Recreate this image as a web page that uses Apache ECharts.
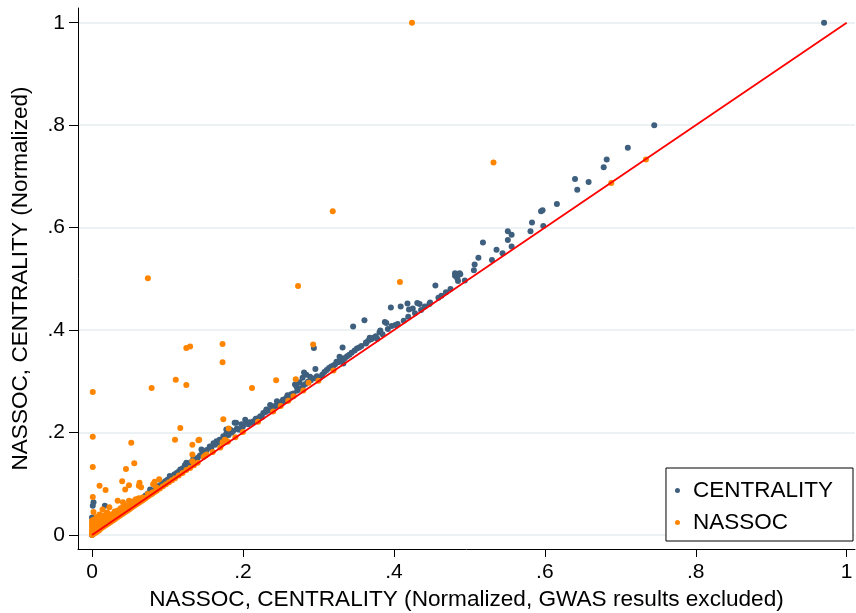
<!DOCTYPE html>
<html><head><meta charset="utf-8">
<script src="https://cdn.jsdelivr.net/npm/echarts@6/dist/echarts.min.js"></script>
<style>html,body{margin:0;padding:0;background:#fff}#c{width:856px;height:613px}</style>
</head><body><div id="c"></div>
<script>
// Tick values
const xTicks = [0, 0.2, 0.4, 0.6, 0.8, 1];
const yTicks = [0, 0.2, 0.4, 0.6, 0.8, 1];
// CENTRALITY series (x: normalized, GWAS excluded; y: normalized)
const centralityX = [0.000,0.002,0.003,0.001,0.000,0.001,0.002,0.017,0.006,0.010,0.014,0.018,0.022,0.026,0.030,0.034,0.038,0.042,0.045,0.049,0.053,0.056,0.060,0.064,0.068,0.071,0.074,0.077,0.080,0.084,0.087,0.090,0.094,0.097,0.100,0.103,0.106,0.109,0.112,0.115,0.117,0.120,0.123,0.125,0.128,0.131,0.134,0.137,0.140,0.143,0.145,0.146,0.149,0.152,0.156,0.158,0.161,0.163,0.165,0.166,0.169,0.171,0.174,0.176,0.178,0.178,0.181,0.183,0.185,0.187,0.189,0.191,0.192,0.194,0.196,0.198,0.200,0.203,0.205,0.207,0.209,0.212,0.214,0.217,0.220,0.223,0.225,0.227,0.230,0.231,0.234,0.236,0.238,0.240,0.243,0.245,0.246,0.249,0.251,0.253,0.255,0.257,0.259,0.261,0.264,0.267,0.269,0.271,0.272,0.275,0.276,0.279,0.280,0.281,0.283,0.284,0.286,0.289,0.290,0.294,0.295,0.296,0.298,0.302,0.305,0.308,0.311,0.314,0.317,0.320,0.322,0.324,0.326,0.328,0.330,0.331,0.332,0.333,0.335,0.338,0.341,0.344,0.346,0.348,0.351,0.354,0.357,0.361,0.363,0.363,0.366,0.368,0.370,0.373,0.376,0.378,0.381,0.382,0.385,0.388,0.390,0.392,0.396,0.397,0.402,0.405,0.409,0.413,0.418,0.419,0.420,0.425,0.428,0.431,0.434,0.436,0.441,0.447,0.448,0.455,0.459,0.463,0.469,0.475,0.481,0.481,0.484,0.485,0.487,0.488,0.494,0.506,0.507,0.512,0.518,0.530,0.536,0.544,0.551,0.551,0.556,0.556,0.581,0.583,0.595,0.597,0.598,0.616,0.640,0.643,0.658,0.678,0.682,0.710,0.745,0.970];
const centralityY = [0.000,0.004,0.012,0.020,0.034,0.057,0.064,0.057,0.012,0.016,0.022,0.026,0.030,0.034,0.038,0.043,0.046,0.057,0.052,0.057,0.064,0.062,0.066,0.070,0.073,0.077,0.081,0.089,0.086,0.090,0.094,0.097,0.101,0.105,0.108,0.115,0.113,0.118,0.121,0.124,0.128,0.130,0.136,0.141,0.138,0.142,0.148,0.146,0.151,0.155,0.167,0.158,0.161,0.166,0.173,0.170,0.179,0.176,0.183,0.180,0.186,0.184,0.193,0.190,0.198,0.206,0.195,0.206,0.200,0.203,0.219,0.219,0.208,0.206,0.206,0.216,0.212,0.225,0.219,0.216,0.220,0.219,0.222,0.227,0.228,0.232,0.230,0.238,0.240,0.245,0.243,0.254,0.247,0.251,0.252,0.261,0.254,0.258,0.259,0.264,0.262,0.267,0.273,0.268,0.275,0.276,0.294,0.290,0.282,0.298,0.286,0.307,0.292,0.317,0.295,0.313,0.299,0.309,0.302,0.365,0.306,0.324,0.310,0.307,0.313,0.318,0.322,0.326,0.329,0.331,0.333,0.338,0.337,0.348,0.341,0.345,0.366,0.335,0.345,0.349,0.352,0.356,0.407,0.360,0.364,0.366,0.369,0.419,0.376,0.374,0.379,0.385,0.382,0.385,0.388,0.383,0.396,0.399,0.392,0.416,0.414,0.402,0.444,0.408,0.410,0.412,0.446,0.418,0.452,0.426,0.440,0.442,0.433,0.453,0.451,0.439,0.446,0.451,0.454,0.487,0.463,0.467,0.474,0.480,0.506,0.511,0.501,0.496,0.511,0.509,0.497,0.517,0.528,0.541,0.571,0.537,0.557,0.550,0.593,0.576,0.586,0.563,0.593,0.610,0.632,0.634,0.603,0.646,0.695,0.674,0.689,0.718,0.733,0.756,0.800,1.000];
// NASSOC series
const nassocX = [0.424,0.532,0.319,0.408,0.074,0.273,0.125,0.130,0.173,0.173,0.293,0.125,0.111,0.079,0.212,0.244,0.270,0.287,0.267,0.001,0.001,0.001,0.052,0.117,0.110,0.056,0.045,0.174,0.181,0.178,0.133,0.142,0.173,0.176,0.133,0.141,0.133,0.150,0.010,0.018,0.040,0.044,0.049,0.001,0.063,0.065,0.062,0.083,0.089,0.081,0.688,0.734,
0.000,0.000,0.000,0.000,0.000,0.000,0.002,0.002,0.002,0.002,0.002,0.002,0.004,0.004,0.004,0.004,0.006,0.006,0.006,0.006,0.008,0.008,0.008,0.010,0.010,0.010,0.010,0.012,0.012,0.012,0.014,0.014,0.014,0.016,0.016,0.016,0.018,0.018,0.020,0.020,0.020,0.022,0.022,0.023,0.024,0.024,0.026,0.026,0.028,0.028,0.030,0.030,0.032,0.032,0.034,0.034,0.034,0.036,0.036,0.038,0.038,0.040,0.041,0.040,0.042,0.042,0.044,0.044,0.046,0.046,0.048,0.049,0.050,0.050,0.052,0.052,0.054,0.055,0.056,0.058,0.058,0.060,0.062,0.062,0.064,0.066,0.067,0.068,0.070,0.072,0.074,0.075,0.078,0.080,0.080,0.083,0.085,0.086,0.090,0.094,0.098,0.102,0.106,0.110,0.115,0.120,0.125,0.130,0.135,0.140,0.148,0.152,0.160,0.170,0.180,0.190,0.200,0.220,0.240,0.250,0.260,0.280,0.300,0.320];
const nassocY = [1.000,0.727,0.632,0.494,0.501,0.486,0.365,0.368,0.373,0.337,0.372,0.293,0.303,0.287,0.287,0.302,0.304,0.297,0.271,0.279,0.192,0.133,0.180,0.209,0.186,0.140,0.129,0.226,0.208,0.184,0.176,0.186,0.181,0.186,0.157,0.185,0.144,0.155,0.096,0.088,0.105,0.089,0.097,0.074,0.102,0.093,0.096,0.104,0.109,0.099,0.687,0.733,
0.000,0.005,0.010,0.016,0.022,0.028,0.002,0.008,0.014,0.020,0.030,0.045,0.004,0.010,0.018,0.026,0.006,0.013,0.022,0.035,0.008,0.016,0.028,0.010,0.018,0.024,0.040,0.013,0.021,0.032,0.015,0.024,0.050,0.017,0.027,0.038,0.019,0.030,0.021,0.033,0.044,0.023,0.036,0.054,0.025,0.040,0.027,0.036,0.029,0.041,0.031,0.046,0.033,0.042,0.035,0.067,0.048,0.037,0.046,0.039,0.052,0.041,0.064,0.050,0.043,0.056,0.045,0.052,0.047,0.058,0.049,0.067,0.051,0.060,0.053,0.062,0.055,0.066,0.057,0.059,0.070,0.061,0.063,0.072,0.065,0.067,0.073,0.069,0.071,0.073,0.080,0.076,0.079,0.083,0.081,0.084,0.093,0.087,0.091,0.095,0.099,0.103,0.107,0.111,0.116,0.121,0.127,0.131,0.136,0.141,0.153,0.157,0.162,0.171,0.182,0.191,0.201,0.221,0.241,0.252,0.262,0.282,0.301,0.321];
// 45-degree reference line
const refLine = [[0, 0], [1, 1]];

const FONT = '"Liberation Sans", Arial, sans-serif';
const NAVY = '#3e5f7d';
const ORANGE = '#ff8500';
const fmt = v => (v === 0 ? '0' : v === 1 ? '1' : String(v).replace(/^0\./, '.'));
const zip = (a, b) => a.map((v, i) => [v, b[i]]);

const chart = echarts.init(document.getElementById('c'), null, {renderer: 'canvas'});
chart.setOption({
  animation: false,
  backgroundColor: '#fff',
  textStyle: {fontFamily: FONT},
  grid: {left: 78, right: 1, top: 8, bottom: 64, containLabel: false, outerBoundsMode: 'none'},
  xAxis: {
    type: 'value', min: -0.01856, max: 1.011,
    name: 'NASSOC, CENTRALITY (Normalized, GWAS results excluded)',
    nameLocation: 'middle', nameGap: 39,
    nameTextStyle: {fontSize: 22.6, color: '#000', fontFamily: FONT},
    axisLine: {show: true, onZero: false, lineStyle: {color: '#000', width: 1}},
    axisTick: {show: true, customValues: xTicks, length: 8, lineStyle: {color: '#000', width: 1}},
    axisLabel: {customValues: xTicks, formatter: fmt, fontSize: 21, color: '#000', margin: 13, fontFamily: FONT},
    splitLine: {show: false}
  },
  yAxis: {
    type: 'value', min: -0.0273, max: 1.0287,
    name: 'NASSOC, CENTRALITY (Normalized)',
    nameLocation: 'middle', nameGap: 46,
    nameTextStyle: {fontSize: 22.6, color: '#000', fontFamily: FONT},
    axisLine: {show: true, onZero: false, lineStyle: {color: '#000', width: 1}},
    axisTick: {show: true, customValues: yTicks, length: 9, lineStyle: {color: '#000', width: 1}},
    axisLabel: {customValues: yTicks, formatter: fmt, fontSize: 21, color: '#000', margin: 13, fontFamily: FONT},
    splitLine: {show: false}
  },
  legend: {
    data: ['CENTRALITY', 'NASSOC'],
    orient: 'vertical', right: 3, bottom: 72,
    icon: 'circle', itemWidth: 5, itemHeight: 5, itemGap: 9,
    padding: [11, 20, 7, 9],
    borderColor: '#000', borderWidth: 1, backgroundColor: '#fff',
    textStyle: {fontSize: 22.5, lineHeight: 22, color: '#000', fontFamily: FONT, padding: [0, 0, 0, 8]}
  },
  series: [
    {
      type: 'line', name: 'grid', data: [], z: 0, silent: true,
      markLine: {
        silent: true, symbol: 'none', animation: false, z: 0,
        label: {show: false},
        lineStyle: {color: '#e6eef1', width: 1.6, type: 'solid'},
        data: yTicks.map(v => ({yAxis: v}))
      }
    },
    {
      type: 'scatter', name: 'CENTRALITY', data: zip(centralityX, centralityY),
      symbol: 'circle', symbolSize: 6, z: 2,
      itemStyle: {color: NAVY, opacity: 1}
    },
    {
      type: 'scatter', name: 'NASSOC', data: zip(nassocX, nassocY),
      symbol: 'circle', symbolSize: 6, z: 3,
      itemStyle: {color: ORANGE, opacity: 1}
    },
    {
      type: 'line', name: 'ref', data: refLine, z: 4, silent: true,
      showSymbol: false, symbol: 'none',
      lineStyle: {color: '#ff0000', width: 1.8}
    }
  ]
});
</script>
</body></html>
